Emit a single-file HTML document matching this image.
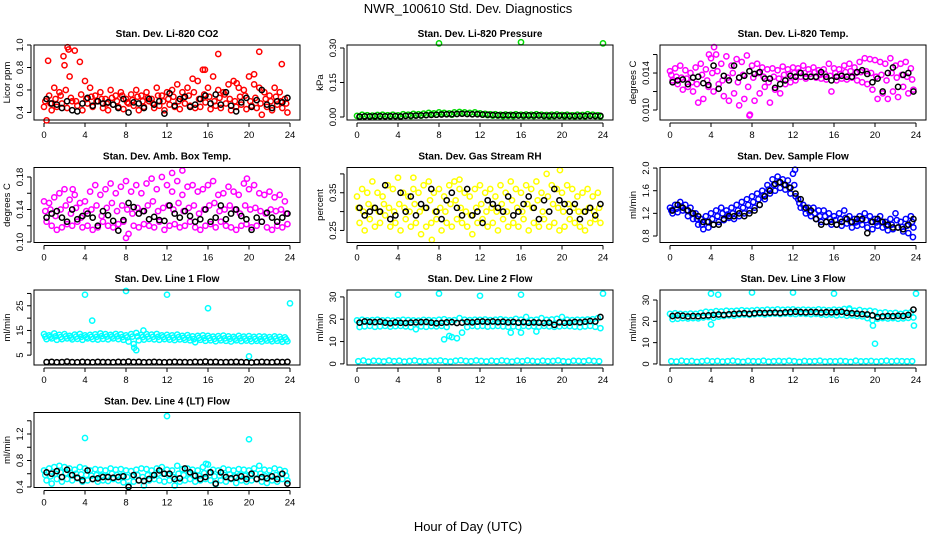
<!DOCTYPE html>
<html><head><meta charset="utf-8"><style>
html,body{margin:0;padding:0;background:#fff;}
svg{display:block;font-family:"Liberation Sans",sans-serif;}
</style></head><body>
<svg id="chart" width="936" height="540" viewBox="0 0 936 540" xmlns="http://www.w3.org/2000/svg">
<text x="468" y="13" font-size="13" text-anchor="middle">NWR_100610  Std. Dev. Diagnostics</text>
<text x="468" y="531" font-size="13" text-anchor="middle">Hour of Day (UTC)</text>
</svg>
<script>
const co2A=[0.45,0.55,0.62,0.58,0.82,0.72,0.95,0.85,0.68,0.62,0.55,0.58,0.52,0.6,0.55,0.58,0.52,0.56,0.6,0.55,0.58,0.52,0.62,0.55,0.58,0.6,0.65,0.58,0.62,0.7,0.68,0.78,0.62,0.72,0.6,0.58,0.65,0.68,0.62,0.6,0.72,0.65,0.62,0.58,0.55,0.62,0.58,0.52];
const co2B=[0.33,0.42,0.45,0.48,0.44,0.5,0.46,0.42,0.48,0.45,0.5,0.44,0.42,0.47,0.45,0.43,0.48,0.46,0.42,0.45,0.5,0.44,0.46,0.42,0.47,0.45,0.43,0.48,0.46,0.44,0.45,0.49,0.43,0.46,0.44,0.48,0.42,0.45,0.47,0.43,0.46,0.44,0.38,0.45,0.42,0.47,0.44,0.4];
const co2M=[0.5,0.48,0.52,0.55,0.6,0.53,0.5,0.56,0.52,0.54,0.5,0.52,0.48,0.53,0.5,0.55,0.49,0.51,0.54,0.5,0.53,0.48,0.55,0.5,0.52,0.54,0.5,0.53,0.55,0.58,0.52,0.56,0.54,0.5,0.53,0.56,0.52,0.5,0.54,0.55,0.5,0.53,0.48,0.52,0.5,0.54,0.5,0.48];
const co2OutX=[2.3,2.4,1.9,0.4,17,15.7,21,23.2,20.5,18.8];
const co2OutY=[0.98,0.96,0.9,0.86,0.92,0.78,0.94,0.83,0.74,0.66];
const co2K=[0.52,0.48,0.47,0.44,0.5,0.42,0.41,0.48,0.53,0.46,0.5,0.48,0.49,0.47,0.44,0.52,0.4,0.49,0.48,0.44,0.52,0.47,0.5,0.39,0.57,0.46,0.52,0.54,0.45,0.47,0.52,0.55,0.48,0.56,0.47,0.58,0.46,0.41,0.49,0.53,0.45,0.51,0.6,0.47,0.44,0.5,0.49,0.53];

const prA=[0.005,0.01,0.008,0.006,0.009,0.01,0.008,0.01,0.007,0.012,0.01,0.014,0.012,0.015,0.018,0.016,0.02,0.018,0.016,0.02,0.022,0.02,0.018,0.02,0.016,0.014,0.012,0.012,0.01,0.011,0.01,0.012,0.01,0.011,0.01,0.012,0.01,0.009,0.01,0.011,0.009,0.01,0.008,0.01,0.009,0.012,0.01,0.008];
const prB=[0,0.003,0.002,0.001,0.003,0.004,0.002,0.004,0.001,0.006,0.004,0.008,0.006,0.009,0.012,0.01,0.014,0.012,0.01,0.014,0.016,0.014,0.012,0.014,0.01,0.008,0.006,0.006,0.004,0.005,0.004,0.006,0.004,0.005,0.004,0.006,0.004,0.003,0.004,0.005,0.003,0.004,0.002,0.004,0.003,0.006,0.004,0.002];
const prOutX=[8,16,24];
const prOutY=[0.32,0.325,0.32];
const prK=[0.002,0.003,0.003,0.004,0.004,0.003,0.004,0.004,0.003,0.005,0.006,0.006,0.007,0.008,0.009,0.01,0.011,0.012,0.012,0.013,0.014,0.013,0.012,0.012,0.011,0.01,0.009,0.008,0.008,0.008,0.008,0.007,0.007,0.007,0.007,0.007,0.006,0.006,0.006,0.006,0.006,0.005,0.005,0.005,0.005,0.005,0.005,0.005];

const ltA=[0.0142,0.0145,0.0148,0.0143,0.0140,0.0146,0.0150,0.0144,0.0156,0.0160,0.0150,0.0158,0.0148,0.0155,0.0152,0.0159,0.0148,0.0150,0.0146,0.0144,0.0145,0.0143,0.0147,0.0144,0.0146,0.0145,0.0148,0.0144,0.0146,0.0143,0.0144,0.0150,0.0145,0.0144,0.0148,0.0150,0.0146,0.0152,0.0156,0.0155,0.0154,0.0152,0.0150,0.0156,0.0148,0.0150,0.0152,0.0145];
const ltB=[0.0132,0.0128,0.0122,0.0125,0.0120,0.0108,0.0112,0.0125,0.0120,0.0128,0.0115,0.0110,0.0118,0.0105,0.0112,0.0094,0.0110,0.0118,0.0125,0.0108,0.0122,0.0118,0.0128,0.0130,0.0132,0.0136,0.0134,0.0136,0.0135,0.0134,0.0133,0.0120,0.0132,0.0134,0.0133,0.0135,0.0132,0.0130,0.0128,0.0122,0.0112,0.0118,0.0112,0.0120,0.0114,0.0125,0.0118,0.0122];
const ltM=[0.0138,0.0136,0.0135,0.0134,0.0130,0.0128,0.0138,0.0132,0.0140,0.0142,0.0132,0.0135,0.0140,0.0130,0.0138,0.0125,0.0135,0.0140,0.0136,0.0130,0.0136,0.0134,0.0138,0.0139,0.0140,0.0141,0.0140,0.0139,0.0141,0.0138,0.0139,0.0137,0.0140,0.0139,0.0141,0.0142,0.0140,0.0141,0.0142,0.0140,0.0136,0.0138,0.0132,0.0140,0.0135,0.0138,0.0136,0.0133];
const ltOutX=[4.3,7.8,3.8];
const ltOutY=[0.0168,0.0095,0.0160];
const ltK=[0.0130,0.0132,0.0133,0.0128,0.0135,0.0136,0.0129,0.0127,0.0148,0.0123,0.0137,0.0132,0.0148,0.0135,0.0137,0.0142,0.0139,0.0141,0.0134,0.0134,0.0124,0.0128,0.0132,0.0137,0.0136,0.0140,0.0136,0.0136,0.0136,0.0141,0.0136,0.0132,0.0136,0.0137,0.0136,0.0136,0.0141,0.0143,0.0139,0.0130,0.0134,0.0120,0.0140,0.0146,0.0125,0.0138,0.0140,0.0120];

const abA=[0.15,0.148,0.155,0.16,0.165,0.152,0.158,0.148,0.15,0.162,0.17,0.158,0.165,0.172,0.16,0.168,0.175,0.162,0.17,0.16,0.172,0.178,0.165,0.18,0.17,0.162,0.175,0.158,0.168,0.17,0.162,0.165,0.17,0.175,0.158,0.16,0.168,0.162,0.158,0.172,0.165,0.17,0.16,0.158,0.162,0.155,0.158,0.15];
const abB=[0.125,0.12,0.115,0.118,0.122,0.12,0.125,0.118,0.12,0.115,0.118,0.125,0.12,0.118,0.122,0.125,0.11,0.12,0.118,0.122,0.12,0.118,0.125,0.115,0.12,0.122,0.118,0.12,0.125,0.118,0.115,0.12,0.122,0.118,0.125,0.12,0.118,0.115,0.12,0.122,0.118,0.12,0.125,0.118,0.115,0.12,0.118,0.122];
const abM=[0.138,0.14,0.132,0.14,0.145,0.135,0.142,0.13,0.138,0.14,0.145,0.132,0.142,0.148,0.138,0.145,0.14,0.135,0.142,0.138,0.145,0.15,0.138,0.142,0.145,0.14,0.148,0.138,0.142,0.145,0.135,0.14,0.145,0.148,0.138,0.14,0.145,0.14,0.135,0.145,0.14,0.142,0.138,0.135,0.14,0.138,0.14,0.135];
const abOutX=[12.5,13.5,8,2.8,19.8];
const abOutY=[0.185,0.188,0.105,0.165,0.178];
const abK=[0.13,0.135,0.138,0.13,0.125,0.14,0.128,0.132,0.135,0.13,0.12,0.138,0.133,0.126,0.114,0.127,0.148,0.143,0.135,0.138,0.128,0.131,0.127,0.126,0.145,0.135,0.13,0.138,0.132,0.125,0.128,0.14,0.125,0.13,0.145,0.128,0.135,0.14,0.132,0.128,0.115,0.13,0.125,0.136,0.13,0.125,0.13,0.135];

const rhA=[0.34,0.36,0.35,0.38,0.35,0.34,0.37,0.36,0.39,0.35,0.34,0.36,0.35,0.37,0.38,0.35,0.36,0.34,0.37,0.38,0.36,0.35,0.34,0.36,0.37,0.35,0.36,0.34,0.37,0.35,0.38,0.36,0.35,0.37,0.36,0.38,0.35,0.4,0.37,0.36,0.35,0.37,0.36,0.34,0.35,0.36,0.34,0.35];
const rhB=[0.27,0.25,0.28,0.26,0.27,0.29,0.26,0.27,0.25,0.28,0.26,0.27,0.24,0.26,0.27,0.28,0.25,0.27,0.26,0.28,0.27,0.26,0.24,0.27,0.28,0.26,0.27,0.25,0.28,0.26,0.27,0.26,0.28,0.25,0.27,0.26,0.28,0.26,0.27,0.25,0.26,0.28,0.27,0.26,0.25,0.27,0.28,0.27];
const rhM=[0.31,0.3,0.32,0.31,0.3,0.32,0.31,0.3,0.32,0.31,0.3,0.32,0.3,0.31,0.33,0.3,0.31,0.3,0.32,0.33,0.31,0.3,0.29,0.31,0.32,0.3,0.31,0.3,0.32,0.3,0.33,0.31,0.3,0.32,0.31,0.33,0.3,0.34,0.32,0.31,0.3,0.32,0.31,0.3,0.3,0.31,0.3,0.31];
const rhOutX=[5.5,7.3,10,19.8];
const rhOutY=[0.39,0.225,0.385,0.41];
const rhK=[0.31,0.29,0.3,0.31,0.3,0.37,0.28,0.29,0.35,0.3,0.34,0.29,0.32,0.31,0.36,0.3,0.28,0.33,0.35,0.31,0.29,0.36,0.29,0.3,0.27,0.33,0.32,0.31,0.3,0.34,0.29,0.3,0.32,0.34,0.31,0.28,0.33,0.3,0.36,0.33,0.32,0.3,0.32,0.28,0.3,0.31,0.29,0.32];

const sfA=[1.3,1.35,1.4,1.35,1.3,1.2,1.1,1.15,1.2,1.25,1.3,1.25,1.3,1.35,1.4,1.45,1.5,1.55,1.6,1.7,1.8,1.85,1.8,1.78,1.9,1.45,1.35,1.3,1.3,1.25,1.25,1.2,1.15,1.2,1.25,1.15,1.1,1.15,1.2,1.15,1.1,1.15,1.05,1.1,1.2,1.05,1.1,1.15];
const sfB=[1.2,1.22,1.25,1.15,1.1,1.0,0.92,0.95,1.0,1.05,1.08,1.12,1.1,1.15,1.2,1.25,1.3,1.35,1.45,1.55,1.6,1.65,1.62,1.55,1.5,1.3,1.2,1.15,1.1,1.05,1.05,1.0,1.0,0.98,1.02,0.95,0.98,1.0,0.95,0.92,0.98,0.95,0.9,0.92,0.95,0.88,0.85,0.95];
const sfM=[1.25,1.28,1.32,1.25,1.2,1.1,1.0,1.05,1.1,1.15,1.2,1.18,1.2,1.25,1.3,1.35,1.4,1.45,1.52,1.62,1.7,1.75,1.7,1.66,1.7,1.38,1.28,1.22,1.2,1.15,1.15,1.1,1.08,1.1,1.12,1.05,1.04,1.08,1.08,1.05,1.04,1.05,0.98,1.0,1.08,0.96,0.98,1.05];
const sfOutX=[12.2,23.7];
const sfOutY=[1.97,0.78];
const sfK=[1.25,1.35,1.3,1.25,1.2,1.15,1.05,1.05,1.0,1.0,1.1,1.15,1.15,1.2,1.15,1.2,1.25,1.35,1.5,1.6,1.72,1.75,1.7,1.65,1.55,1.45,1.3,1.25,1.1,1.0,1.05,1.05,1.0,1.05,1.1,1.05,1.1,1.1,0.85,1.05,1.1,1.05,1.0,0.95,0.95,0.92,1.0,1.1];

const l1A=[13.5,13,13.8,13.2,13.5,12.8,13.3,13.6,13,13.2,13.4,13.8,13.5,13.2,13.6,13.4,13,13.5,14,13.2,13.5,13.3,13.6,13,13.2,13,13.3,12.8,13.1,12.6,12.8,13,12.8,12.5,12.7,12.9,12.6,12.4,12.8,12.5,12.7,12.4,12.6,12.5,12.3,12.6,12.4,12.2];
const l1B=[11.5,11.8,11.2,11.5,11.8,11.4,11.6,11.2,11.8,11.5,11.3,11.6,11.4,11.8,11.5,11.2,10.5,9.5,11,11.3,11.6,11.4,11.2,11.5,11.3,11.1,11.4,11.2,11,10.2,11.2,10.8,11,10.6,11,10.8,10.5,11,10.7,10.9,10.6,10.8,10.5,10.9,10.6,10.8,10.4,10.6];
const l1M=[12.5,12.4,12.6,12.3,12.6,12.1,12.5,12.4,12.3,12.4,12.4,12.7,12.5,12.5,12.6,12.3,12.2,12.5,12.6,12.3,12.5,12.4,12.4,12.3,12.2,12.1,12.3,12,12.1,11.5,12,11.9,11.9,11.6,11.8,11.8,11.6,11.7,11.8,11.7,11.6,11.6,11.5,11.7,11.4,11.7,11.4,11.4];
const l1OutX=[4,4.7,8,12,16,20,24,9,8.8,9.7];
const l1OutY=[29.5,19,31,29.5,24,4.5,26,7,8,15];
const l1K=[2.2,2.3,2.1,2.2,2.4,2.2,2.1,2.3,2.2,2.1,2.3,2.2,2.2,2.1,2.3,2.2,2.4,2.2,2.3,2.1,2.2,2.3,2.2,2.1,2.2,2.3,2.2,2.2,2.1,2.3,2.2,2.4,2.2,2.3,2.1,2.2,2.2,2.3,2.2,2.1,2.0,2.2,2.3,2.2,2.1,2.3,2.2,2.3];

const l2A=[19.5,19.8,19.5,19.6,19.8,19.5,19.6,19.4,19.5,19.8,19.6,19.5,19.4,19.7,19.6,19.5,19.8,20,19.5,19.6,20.5,19.8,19.6,19.8,19.7,19.9,19.6,19.8,20,19.7,19.6,20.2,19.8,21,19.6,19.8,20.5,19.7,19.9,20.2,21,19.8,19.6,19.8,19.7,19.9,20,20.5];
const l2B=[16.5,16.8,17,16.6,16.8,17,16.7,16.9,17,16.8,16.5,15.5,16.8,16.6,16.9,16.8,17,16.5,12,11.5,14,16.5,17,16.8,17,16.7,16.9,17,16.8,16.6,16.8,16.5,17,16.8,16.9,16.7,17,16.8,16.6,16.8,17,16.9,16.7,16.5,16.8,17,16.6,16];
const l2C=[1.2,1.5,1.0,1.4,1.3,1.1,1.5,1.2,1.4,1.0,1.3,1.5,1.2,1.1,1.4,1.3,1.5,1.2,1.0,1.4,1.6,1.3,1.2,1.5,1.3,1.1,1.4,1.2,1.5,1.3,1.0,1.4,1.2,1.5,1.3,1.1,1.4,1.2,1.3,1.5,1.2,1.0,1.4,1.3,1.2,1.5,1.3,1.2];
const l2OutX=[4,8,12,16,24,8.5,9,15,16,17.5];
const l2OutY=[31,31.5,30.5,31,31.5,11,12.5,14,14,14.5];
const l2K=[18.5,19,18.8,18.7,18.9,18.5,18.2,18.6,18.4,18.3,18.5,18.6,18.7,18.8,18.5,18.2,18.4,18.6,18.7,18.3,18.5,18.8,18.6,18.9,19,18.8,19,18.7,18.9,18.6,18.8,18.5,18.7,18.4,18.6,18.5,18.3,18.5,17.5,18.6,18.4,18.5,18.8,18.6,18.9,19.2,19,21];

const l3A=[23.5,23.8,23.5,23.4,23.6,23.5,24,24.5,24.3,24.8,24.6,25,24.8,25,25.2,25,25.1,25.3,25.2,25.5,25.3,25.6,25.4,25.5,25.6,25.3,25.5,25.4,25.3,25.6,25.4,25.2,25.5,25.3,25.8,25.6,25,25.3,24.8,25,24.6,24,24.2,23.8,24,23.5,24,24.2];
const l3B=[21,21.2,21.5,21.3,21.5,21.4,21.8,22,21.6,22.2,22.5,22.8,22.6,23,23.2,23,23.3,23.5,23.2,23.5,23.6,23.4,23.6,23.5,23.4,23.6,23.5,23.3,23.5,23.2,23,23.2,22.8,23,22.6,22.8,22.5,22.3,21.5,20.5,21.2,21.5,21.3,21.5,21.2,21.4,21.6,21.8];
const l3C=[1.3,1.1,1.5,1.2,1.4,1.0,1.3,1.5,1.2,1.4,1.1,1.3,1.5,1.2,1.0,1.4,1.3,1.2,1.5,1.1,1.3,1.4,1.2,1.5,1.3,1.0,1.4,1.2,1.3,1.5,1.1,1.3,1.2,1.4,1.3,1.0,1.5,1.2,1.3,1.4,1.1,1.3,1.5,1.2,1.4,1.3,1.2,1.3];
const l3OutX=[4,4.7,8,12,16,20,19.8,4,24,23.8,17.5];
const l3OutY=[33,32.5,33.5,33.5,33,9.5,18,18.5,33,18,26];
const l3K=[22.5,22.8,22.6,22.3,22.5,22.4,22.6,22.8,23,23.2,23,23.3,23.5,23.6,23.8,23.5,23.8,24,23.9,24,24.1,23.9,24.2,24.3,24.5,24.3,24.2,24.4,24.3,24.1,24.3,24.2,24.3,24.5,24,23.8,23.6,23.4,23.2,22.8,22,22.3,22.5,22.4,22.6,22.5,23,25.5];

const l4A=[0.65,0.68,0.7,0.72,0.7,0.68,0.66,0.7,0.68,0.65,0.67,0.66,0.65,0.68,0.66,0.67,0.65,0.64,0.66,0.68,0.67,0.65,0.68,0.7,0.66,0.65,0.72,0.67,0.68,0.66,0.65,0.7,0.74,0.66,0.65,0.68,0.66,0.65,0.67,0.66,0.65,0.68,0.72,0.66,0.65,0.68,0.66,0.64];
const l4B=[0.5,0.45,0.52,0.48,0.52,0.5,0.53,0.48,0.5,0.52,0.48,0.5,0.49,0.52,0.5,0.47,0.42,0.48,0.5,0.42,0.5,0.52,0.5,0.48,0.5,0.42,0.48,0.5,0.52,0.48,0.5,0.52,0.5,0.44,0.5,0.48,0.52,0.46,0.5,0.48,0.5,0.52,0.48,0.46,0.5,0.48,0.52,0.5];
const l4M=[0.58,0.56,0.6,0.62,0.61,0.58,0.6,0.59,0.58,0.57,0.58,0.57,0.56,0.6,0.58,0.57,0.55,0.56,0.58,0.55,0.58,0.57,0.6,0.6,0.58,0.55,0.6,0.58,0.6,0.57,0.57,0.61,0.62,0.56,0.57,0.58,0.59,0.56,0.58,0.57,0.58,0.6,0.6,0.56,0.57,0.58,0.59,0.57];
const l4OutX=[4,12,20,15.8];
const l4OutY=[1.14,1.47,1.12,0.75];
const l4K=[0.62,0.6,0.64,0.55,0.66,0.58,0.54,0.5,0.65,0.52,0.53,0.55,0.55,0.54,0.55,0.56,0.4,0.58,0.5,0.49,0.52,0.58,0.65,0.6,0.6,0.52,0.53,0.68,0.62,0.57,0.52,0.55,0.62,0.45,0.62,0.55,0.53,0.54,0.56,0.52,0.6,0.52,0.55,0.53,0.56,0.52,0.6,0.45];

const xTicks=[0,4,8,12,16,20,24];

const panels=[
 {name:'co2',title:'Stan. Dev. Li-820 CO2',yl:'Licor ppm',col:0,row:0,ymin:0.333,ymax:1.0,ticks:[0.4,0.6,0.8,1.0],labels:['0.4','0.6','0.8','1.0'],color:'#ff0000',clouds:[co2A,co2B,co2M],ox:co2OutX,oy:co2OutY,k:co2K},
 {name:'pressure',title:'Stan. Dev. Li-820 Pressure',yl:'kPa',col:1,row:0,ymin:-0.013,ymax:0.313,ticks:[0,0.15,0.3],labels:['0.00','0.15','0.30'],color:'#00dd00',clouds:[prA,prB],ox:prOutX,oy:prOutY,k:prK},
 {name:'licor-temp',title:'Stan. Dev. Li-820 Temp.',yl:'degrees C',col:2,row:0,ymin:0.00892,ymax:0.01703,ticks:[0.010,0.012,0.014,0.016],labels:['0.010','','0.014',''],color:'#ff00ff',clouds:[ltA,ltB,ltM],ox:ltOutX,oy:ltOutY,k:ltK},
 {name:'box-temp',title:'Stan. Dev. Amb. Box Temp.',yl:'degrees C',col:0,row:1,ymin:0.0994,ymax:0.1917,ticks:[0.10,0.12,0.14,0.16,0.18],labels:['0.10','','0.14','','0.18'],color:'#ff00ff',clouds:[abA,abB,abM],ox:abOutX,oy:abOutY,k:abK},
 {name:'gas-rh',title:'Stan. Dev. Gas Stream RH',yl:'percent',col:1,row:1,ymin:0.218,ymax:0.417,ticks:[0.25,0.30,0.35,0.40],labels:['0.25','','0.35',''],color:'#ffff00',clouds:[rhA,rhB,rhM],ox:rhOutX,oy:rhOutY,k:rhK},
 {name:'sample-flow',title:'Stan. Dev. Sample Flow',yl:'ml/min',col:2,row:1,ymin:0.685,ymax:2.01,ticks:[0.8,1.2,1.6,2.0],labels:['0.8','1.2','1.6','2.0'],color:'#0000ff',clouds:[sfA,sfB,sfM],ox:sfOutX,oy:sfOutY,k:sfK},
 {name:'line1-flow',title:'Stan. Dev. Line 1 Flow',yl:'ml/min',col:0,row:2,ymin:1,ymax:31.4,ticks:[5,10,15,20,25,30],labels:['5','','15','','25',''],color:'#00ffff',clouds:[l1A,l1B,l1M],ox:l1OutX,oy:l1OutY,k:l1K},
 {name:'line2-flow',title:'Stan. Dev. Line 2 Flow',yl:'ml/min',col:1,row:2,ymin:-0.5,ymax:33.1,ticks:[0,10,20,30],labels:['0','10','20','30'],color:'#00ffff',clouds:[l2A,l2B,l2C],ox:l2OutX,oy:l2OutY,k:l2K},
 {name:'line3-flow',title:'Stan. Dev. Line 3 Flow',yl:'ml/min',col:2,row:2,ymin:-0.5,ymax:34.7,ticks:[0,10,20,30],labels:['0','10','20','30'],color:'#00ffff',clouds:[l3A,l3B,l3C],ox:l3OutX,oy:l3OutY,k:l3K},
 {name:'line4-flow',title:'Stan. Dev. Line 4 (LT) Flow',yl:'ml/min',col:0,row:3,ymin:0.392,ymax:1.525,ticks:[0.4,0.6,0.8,1.0,1.2,1.4],labels:['0.4','','0.8','','1.2',''],color:'#00ffff',clouds:[l4A,l4B,l4M],ox:l4OutX,oy:l4OutY,k:l4K}
];

const NS='http://www.w3.org/2000/svg';
const svg=document.getElementById('chart');
const colLeft=[34,347,660], W=266, rowTop=[45,167.5,290,412.5], H=75;
const cloudOffset=[0,0.25,0.125];
function mk(tag,attrs,parent){const e=document.createElementNS(NS,tag);for(const k in attrs)e.setAttribute(k,attrs[k]);(parent||svg).appendChild(e);return e;}

panels.forEach(p=>{
  const L=colLeft[p.col], T=rowTop[p.row];
  const xs=h=>L+10+(h/24)*246;
  const ys=v=>T+H-(v-p.ymin)/(p.ymax-p.ymin)*H;
  const g=mk('g',{});
  
  
  const t=mk('text',{x:L+W/2,y:T-8,'font-size':10,'font-weight':'bold','text-anchor':'middle'},g);
  t.textContent=p.title;
  
  
  const yl=mk('text',{x:L-24,y:T+H/2,'font-size':9.5,'text-anchor':'middle',transform:`rotate(-90 ${L-24} ${T+H/2})`},g);
  yl.textContent=p.yl;
  
  
  const xa=mk('g',{stroke:'#000','stroke-width':1},g);
  
  
  mk('line',{x1:xs(0),x2:xs(24),y1:T+H+3,y2:T+H+3},xa);
  xTicks.forEach(h=>{
    mk('line',{x1:xs(h),x2:xs(h),y1:T+H+3,y2:T+H+7},xa);
    const lt=mk('text',{x:xs(h),y:T+H+18,'font-size':9.5,'text-anchor':'middle',stroke:'none'},g);
    lt.textContent=h;
    
    
  });
  const ya=mk('g',{stroke:'#000','stroke-width':1},g);
  
  
  mk('line',{x1:L-3,x2:L-3,y1:ys(p.ticks[0]),y2:ys(p.ticks[p.ticks.length-1])},ya);
  p.ticks.forEach((v,i)=>{
    const y=ys(v);
    mk('line',{x1:L-7,x2:L-3,y1:y,y2:y},ya);
    if(p.labels[i]){
      const lt=mk('text',{x:L-11,y:y,'font-size':9.5,'text-anchor':'middle',transform:`rotate(-90 ${L-11} ${y})`},g);
      lt.textContent=p.labels[i];
      
      
    }
  });
  const pts=mk('g',{fill:'none','stroke-width':1.5},g);
  
  
  p.clouds.forEach((arr,ci)=>{
    arr.forEach((v,i)=>{
      const c=mk('circle',{cx:xs(i*0.5+cloudOffset[ci]),cy:ys(v),r:2.6,stroke:p.color},pts);
      
      
    });
  });
  p.ox.forEach((x,i)=>{
    const c=mk('circle',{cx:xs(x),cy:ys(p.oy[i]),r:2.6,stroke:p.color},pts);
    
    
  });
  p.k.forEach((v,i)=>{
    const c=mk('circle',{cx:xs(i*0.5+0.25),cy:ys(v),r:2.6,stroke:'#000'},pts);
    
    
  });
  const box=mk('rect',{x:L,y:T,width:W,height:H,fill:'none',stroke:'#000','stroke-width':1},g);
  
  
});
</script>
</body></html>
